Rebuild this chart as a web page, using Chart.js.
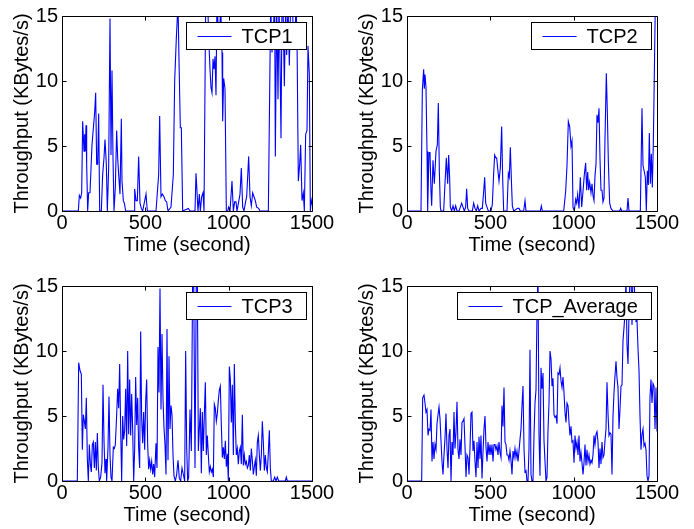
<!DOCTYPE html>
<html>
<head>
<meta charset="utf-8">
<script src="https://cdn.jsdelivr.net/npm/chart.js@4/dist/chart.umd.min.js"></script>
<style>
  html, body { margin: 0; padding: 0; background: #ffffff; }
  #wrap { position: relative; width: 694px; height: 529px; overflow: hidden; background: #fff; }
  canvas { position: absolute; }
</style>
</head>
<body>
<div id="wrap">
  <canvas id="c1" width="345" height="259" style="left:0px;top:0px;"></canvas>
  <canvas id="c2" width="345" height="259" style="left:345px;top:0px;"></canvas>
  <canvas id="c3" width="345" height="259" style="left:0px;top:270px;"></canvas>
  <canvas id="c4" width="345" height="259" style="left:345px;top:270px;"></canvas>
</div>
<script>
// ---- Data ----
const xTicks = [0, 500, 1000, 1500];
const yTicks = [0, 5, 10, 15];
const xTitle = 'Time (second)';
const yTitle = 'Throughput (KBytes/s)';
const seriesNames = ['TCP1', 'TCP2', 'TCP3', 'TCP_Average'];

const t1 = [0,98,104,112,118,124,132,136,140,144,148,154,160,168,180,196,202,208,214,220,226,236,244,252,258,266,272,280,288,294,300,306,312,320,328,334,340,348,356,360,368,374,382,432,436,444,452,460,468,476,484,504,512,564,580,586,594,602,612,620,628,636,654,668,676,686,696,702,710,716,724,758,768,798,804,810,816,824,830,838,846,852,862,872,880,888,894,900,906,912,918,924,930,936,944,952,960,964,970,978,986,994,1000,1008,1020,1028,1036,1044,1050,1060,1068,1076,1084,1092,1100,1108,1120,1128,1136,1144,1152,1160,1168,1180,1188,1238,1252,1260,1268,1276,1280,1288,1296,1302,1308,1314,1320,1326,1334,1342,1348,1356,1364,1372,1382,1388,1396,1404,1410,1418,1426,1432,1440,1448,1454,1462,1470,1476,1484,1490,1496,1500];
const v1 = [0,0,1.2,1.0,1.4,6.9,4.6,5.9,4.6,6.6,3.6,0,1.4,1.4,5.1,7.6,9.1,3.6,3.6,7.5,0,0,2.8,4.1,5.5,3.6,0,3.3,14.8,4.3,10.8,4.1,0,1.8,6.2,4.1,2.8,1.3,7.1,2.3,0.8,0.6,0,0,1.7,0.8,0.8,4.2,0.6,0.2,0,1.3,0,0,2.8,7.3,1.1,1.3,1.1,0.8,0.7,0,0.3,2.8,10.0,13.3,16,11.6,6.4,6.4,0,0.2,0,0,2.9,1.5,0,1.3,0,1.1,1.4,0,16,17,13.4,10.9,9.5,9.1,11.7,10.9,11.9,8.9,16.5,14.4,12.7,16,12.2,6.9,10.2,9.4,0,0,0.3,0,2.3,0,0.7,0.7,0,0.7,1.3,3.3,0.3,0,0.6,1.1,4.2,1.1,0.4,1.4,1.1,0.8,0.3,0.2,0,0,16,12.2,14,16,4.2,16,8.6,16,11.5,5.6,16,16,9.6,16,12,16,11.2,16,16,13.7,12.4,16,13.4,2.3,3.6,5.1,0.8,1.4,0,5.9,6.2,12.7,10.5,0,0.8,0.5];

const t2 = [0,84,92,100,104,108,114,120,124,132,138,144,148,156,164,168,174,182,188,194,200,204,212,220,228,236,244,250,256,260,268,276,284,292,300,312,320,328,336,344,352,358,364,372,392,400,408,416,424,432,444,452,460,466,472,480,488,504,512,520,526,532,538,544,552,560,568,574,580,588,600,608,614,620,626,632,640,664,672,680,700,708,714,800,806,812,940,952,960,968,976,984,990,996,1004,1012,1018,1024,1032,1040,1048,1056,1064,1072,1078,1084,1090,1096,1104,1110,1116,1122,1128,1134,1140,1146,1152,1158,1164,1170,1176,1182,1188,1196,1202,1208,1216,1224,1236,1276,1282,1288,1320,1326,1332,1400,1410,1416,1424,1430,1436,1442,1448,1454,1460,1466,1472,1478,1484,1490,1500];
const v2 = [0,0,9.3,10.9,9.4,10.5,9.5,4.6,0,4.5,4.5,1.5,0.4,3.9,2.1,3.1,4.6,5.1,8.3,3.1,0.3,0,0,0,2.1,4.1,2.1,4.3,2.5,0.3,0,0.4,0,0.4,0,0,0.3,0.6,0.3,0,0.3,1.7,0.2,0,0,0.6,0.2,0,0.4,0,0.2,0.2,1.5,2.6,0.6,0.3,0,0,0.5,2.9,4.3,4.1,4.1,3.3,2.3,3.3,6.5,2.5,0,0,0,2.9,2.6,4.9,2.5,0.4,0,0.2,0.2,0,0,0.8,0,0,0.4,0,0,1.5,3.5,6.9,6.5,5.0,5.4,0.3,0,0.9,0.6,1.3,0.2,2.6,0.3,1.5,2.8,3.7,1.6,3.0,1.6,2.2,1.4,2.1,1.2,0.8,2.7,3.6,7.4,6.8,7.9,4.0,1.6,1.6,0.7,1.0,5.6,10.6,7.6,3.8,0.6,0.2,0,0,0.2,0,0,1.0,0,0,7.9,3.5,3.0,2.6,0,3.1,2.0,6.0,2.1,4.4,1.8,5.3,10.5,16,16];

const t3 = [0,92,100,108,116,122,128,134,140,146,152,158,164,170,176,182,188,194,200,206,212,218,224,232,240,246,252,258,264,268,276,282,288,294,300,308,314,320,328,334,340,346,352,358,364,370,376,382,388,394,400,406,412,418,424,430,436,442,448,454,460,466,472,478,484,490,496,502,508,514,520,526,532,538,544,550,556,564,570,576,582,588,594,600,606,612,618,624,630,636,642,648,654,660,666,672,680,688,696,704,712,720,728,736,742,748,754,760,768,776,784,790,798,806,812,818,824,830,836,842,848,854,860,866,872,878,884,890,896,902,908,914,920,926,932,938,944,950,956,962,968,974,980,986,992,998,1004,1010,1016,1022,1028,1034,1040,1046,1052,1058,1064,1070,1076,1082,1088,1094,1100,1106,1112,1118,1124,1130,1136,1142,1148,1154,1160,1166,1172,1178,1184,1190,1196,1202,1208,1214,1220,1226,1232,1238,1244,1250,1256,1268,1276,1284,1292,1300,1340,1346,1352,1500];
const v3 = [0,0,9.1,8.5,8.2,2.4,5.1,4.6,4.0,6.4,1.7,0,2.8,1.3,0.7,2.8,3.0,1.0,3.0,0.8,3.7,1.0,0,0.3,1.4,7.4,3.1,0.6,1.7,0,2.6,6.5,2.0,0.3,0,2.6,2.5,2.8,5.1,7.1,5.6,9.0,4.0,0,5.0,3.2,3.9,7.1,2.7,10.0,3.6,7.8,3.5,6.7,4.0,0,2.5,8.0,4.3,6.4,2.5,1.0,11.5,4.8,2.9,5.3,2.4,6.1,7.8,2.8,0.9,1.6,0.9,1.5,0.5,1.3,0.3,2.9,1.0,10.3,6.8,14.8,5.5,11.3,6.3,4.1,2.8,0.5,11.7,1.6,9.6,4.0,5.8,5.1,2.0,0.4,0,0.5,1.6,0.2,0,1.0,0.5,0,10.0,2.6,0,0.3,5.5,2.3,16,16,1.0,16,16,2.3,4.0,5.6,0.6,5.3,2.3,5.1,7.6,2.0,3.5,2.0,0.7,1.1,0.7,0.9,0.3,5.9,5.6,4.6,5.2,6.2,7.0,7.3,4.3,1.8,2.6,1.7,3.1,1.1,2.1,0,8.8,7.8,4.5,7.4,2.0,9.0,4.4,2.0,2.5,1.3,2.3,2.6,1.3,5.1,1.2,2.0,1.3,1.5,1.0,1.2,2.0,0.8,2.5,1.6,0.5,1.1,1.6,0.4,3.0,3.5,2.0,0.8,2.0,4.6,3.0,0.8,2.0,1.0,0.7,2.2,3.9,1.0,0,0,0.3,0,0.3,0,0,0.3,0,0];

const t4 = [0,88,94,102,108,114,120,126,132,138,144,150,156,162,168,174,180,186,192,198,204,210,216,222,228,234,240,246,252,258,264,270,276,282,288,294,300,306,312,318,324,330,336,342,348,354,360,366,372,378,384,390,396,402,408,414,420,426,432,438,444,450,456,462,468,474,480,486,492,498,504,510,516,522,528,534,540,546,552,558,564,570,576,582,588,594,600,606,612,618,624,630,636,642,648,654,660,666,672,678,684,690,696,702,708,714,720,726,732,738,744,750,756,762,768,774,780,786,792,798,804,810,816,822,828,834,840,846,852,858,864,870,876,882,888,894,900,906,912,918,924,930,936,942,948,954,960,966,972,978,984,990,996,1002,1008,1014,1020,1026,1032,1038,1044,1050,1056,1062,1068,1074,1080,1086,1092,1098,1104,1110,1116,1122,1128,1134,1140,1146,1152,1158,1164,1170,1176,1182,1188,1194,1200,1206,1212,1218,1224,1230,1236,1242,1248,1254,1260,1266,1272,1278,1284,1290,1296,1302,1308,1314,1320,1326,1332,1338,1344,1350,1356,1362,1368,1374,1380,1386,1392,1398,1404,1410,1416,1422,1428,1434,1440,1446,1452,1458,1464,1470,1476,1482,1488,1494,1500];
const v4 = [0,0,6.4,6.6,6.0,5.3,5.5,3.5,4.0,3.9,5.5,1.5,3.0,1.7,2.8,2.4,4.4,5.1,5.7,4.8,3.1,1.5,0.5,2.0,3.3,5.2,2.5,1.0,3.5,4.0,0,3.0,2.0,5.3,2.5,3.8,6.1,2.4,1.7,3.2,2.0,4.5,4.6,4.8,2.7,0.3,2.0,1.8,0.5,2.5,5.2,5.3,2.3,3.1,1.5,0.3,3.0,1.0,3.4,1.7,3.5,0.2,2.2,4.0,5.0,2.6,1.5,3.0,2.0,2.8,2.0,2.8,1.5,2.8,2.8,2.4,2.7,2.0,3.0,2.2,1.8,5.8,4.2,7.2,3.0,2.8,2.0,2.0,1.6,2.3,1.6,0.5,2.3,1.8,2.5,1.8,2.3,1.5,2.3,3.2,4.0,5.8,7.3,2.5,0.7,0.8,0,0,2.5,10.1,0.5,0,0,3.5,6.0,7.0,13.0,16,3.5,0.4,8.7,7.1,8.3,3.1,1.5,0,0.3,3.9,6.0,10.0,9.4,7.3,7.9,5.1,4.9,5.0,4.4,8.3,8.2,8.7,7.7,7.2,8.0,6.8,5.3,4.5,6.0,5.8,4.5,3.5,4.2,3.0,3.1,1.4,3.5,2.5,3.0,2.0,3.5,1.5,2.2,1.4,0.5,1.4,2.8,1.2,2.4,1.5,2.0,1.3,1.6,1.4,2.0,3.5,2.8,3.6,3.8,3.0,1.0,2.5,1.3,3.0,1.8,2.0,3.1,4.0,7.6,5.2,3.5,3.7,3.6,0.5,5.0,6.8,8.1,9.2,7.9,7.2,4.0,5.5,7.3,7.4,10.8,11.8,12.9,15.5,10.5,9.0,12.8,16,16,12,16,16,13.5,12.3,12.4,10.2,8.5,5.0,2.4,3.6,4.0,2.7,2.9,2.4,0.4,0,0.4,6.5,7.8,6.0,7.5,7.3,4.0,7.2,3.8];

const panels = [
  { id: 'c1', name: seriesNames[0], t: t1, v: v1 },
  { id: 'c2', name: seriesNames[1], t: t2, v: v2 },
  { id: 'c3', name: seriesNames[2], t: t3, v: v3 },
  { id: 'c4', name: seriesNames[3], t: t4, v: v4 }
];

const FONT = "'Liberation Sans', Arial, Helvetica, sans-serif";
const FS = 20;
Chart.defaults.font.family = FONT;
Chart.defaults.font.size = FS;
Chart.defaults.color = '#000000';

// Box + inward ticks (MATLAB style) and boxed legend
const matlabFrame = {
  id: 'matlabFrame',
  afterDatasetsDraw(chart) {
    const { ctx, chartArea: a, scales } = chart;
    const L = Math.round(a.left) + 0.5, R = Math.round(a.right) + 0.5;
    const T = Math.round(a.top) + 0.5, B = Math.round(a.bottom) + 0.5;
    ctx.save();
    ctx.strokeStyle = '#000000';
    ctx.lineWidth = 1;
    ctx.beginPath();
    ctx.rect(L, T, R - L, B - T);
    const tl = 4;
    scales.x.ticks.forEach(tk => {
      const px = Math.round(scales.x.getPixelForValue(tk.value)) + 0.5;
      ctx.moveTo(px, B); ctx.lineTo(px, B - tl);
      ctx.moveTo(px, T); ctx.lineTo(px, T + tl);
    });
    scales.y.ticks.forEach(tk => {
      const py = Math.round(scales.y.getPixelForValue(tk.value)) + 0.5;
      ctx.moveTo(L, py); ctx.lineTo(L + tl, py);
      ctx.moveTo(R, py); ctx.lineTo(R - tl, py);
    });
    ctx.stroke();

    // legend box
    const ds = chart.data.datasets[0];
    ctx.font = FS + 'px ' + FONT;
    const tw = ctx.measureText(ds.label).width;
    const bw = Math.round(55 + tw + 14), bh = 27;
    const bx = Math.round(a.right) - 6 - bw + 0.5;
    const by = Math.round(a.top) + 6 + 0.5;
    ctx.fillStyle = '#ffffff';
    ctx.fillRect(bx, by, bw, bh);
    ctx.strokeStyle = '#000000';
    ctx.strokeRect(bx, by, bw, bh);
    const cy = Math.round(by + bh / 2) + 0.5;
    ctx.strokeStyle = ds.borderColor;
    ctx.beginPath();
    ctx.moveTo(bx + 11, cy); ctx.lineTo(bx + 45, cy);
    ctx.stroke();
    ctx.fillStyle = '#000000';
    ctx.textBaseline = 'middle';
    ctx.textAlign = 'left';
    ctx.fillText(ds.label, bx + 55, cy + 1);
    ctx.restore();
  }
};

panels.forEach(p => {
  const data = p.t.map((x, i) => ({ x: x, y: p.v[i] }));
  new Chart(document.getElementById(p.id), {
    type: 'line',
    data: {
      datasets: [{
        label: p.name,
        data: data,
        borderColor: '#0000ff',
        borderWidth: 1.1,
        pointRadius: 0,
        tension: 0,
        fill: false
      }]
    },
    options: {
      responsive: false,
      animation: false,
      events: [],
      layout: { padding: { left: 0, top: 13, right: 33, bottom: 0 } },
      plugins: { legend: { display: false }, tooltip: { enabled: false } },
      scales: {
        x: {
          type: 'linear',
          min: 0, max: 1500,
          afterBuildTicks: s => { s.ticks = xTicks.map(v => ({ value: v })); },
          afterFit: s => { s.height = 48; },
          grid: { display: false, drawTicks: false },
          border: { display: false },
          ticks: { padding: 0, maxRotation: 0, autoSkip: false, callback: v => String(v) },
          title: { display: true, text: xTitle, padding: { top: 0, bottom: 2 } }
        },
        y: {
          type: 'linear',
          min: 0, max: 15,
          afterBuildTicks: s => { s.ticks = yTicks.map(v => ({ value: v })); },
          afterFit: s => { s.width = 62; },
          grid: { display: false, drawTicks: false },
          border: { display: false },
          ticks: { padding: 4, autoSkip: false, callback: v => String(v) },
          title: { display: true, text: yTitle, padding: { top: 10, bottom: 0 } }
        }
      }
    },
    plugins: [matlabFrame]
  });
});
</script>
</body>
</html>
